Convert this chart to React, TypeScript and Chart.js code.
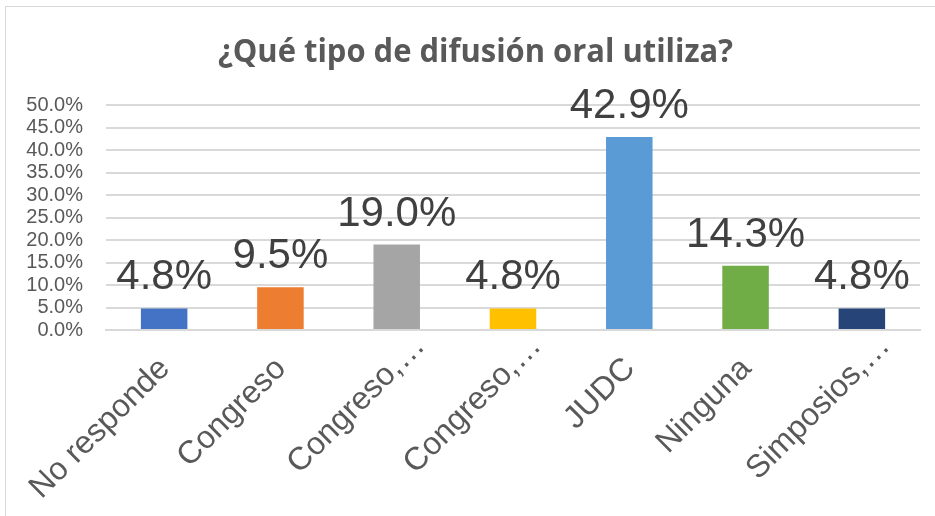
import React, { useEffect, useRef } from "react";
import { Chart, registerables } from "chart.js";

Chart.register(...registerables);

const TITLE = "¿Qué tipo de difusión oral utiliza?";
const CATEGORIES = ["No responde", "Congreso", "Congreso,…", "Congreso,…", "JUDC", "Ninguna", "Simposios,…"];
const VALUES = [4.8, 9.5, 19.0, 4.8, 42.9, 14.3, 4.8];
const COLORS = ["#4472C4", "#ED7D31", "#A5A5A5", "#FFC000", "#5B9BD5", "#70AD47", "#264478"];
const Y_MIN = 0;
const Y_MAX = 50;
const Y_STEP = 5;

const FONT = "'Liberation Sans', Arial, sans-serif";

const labelPlugin = {
  id: "valueLabels",
  afterDatasetsDraw(chart: any) {
    const ctx = chart.ctx;
    const meta = chart.getDatasetMeta(0);
    ctx.save();
    ctx.font = `42px ${FONT}`;
    ctx.fillStyle = "#404040";
    ctx.textAlign = "center";
    ctx.textBaseline = "alphabetic";
    meta.data.forEach((bar: any, i: number) => {
      ctx.fillText(VALUES[i].toFixed(1) + "%", bar.x, bar.y - 19);
    });
    ctx.restore();
  },
};

// Category labels rotated 45°, the text before a trailing ellipsis ends at the tick
const xLabelPlugin = {
  id: "xLabels",
  afterDraw(chart: any) {
    const ctx = chart.ctx;
    const xs = chart.scales.x;
    ctx.save();
    ctx.font = `32px ${FONT}`;
    ctx.fillStyle = "#595959";
    ctx.textAlign = "left";
    ctx.textBaseline = "alphabetic";
    CATEGORIES.forEach((lab, i) => {
      const x = xs.getPixelForTick(i);
      const prefix = lab.endsWith("…") ? lab.slice(0, -1) : lab;
      const pw = ctx.measureText(prefix).width;
      ctx.save();
      ctx.translate(x + 7, chart.chartArea.bottom + 40);
      ctx.rotate(-Math.PI / 4);
      ctx.fillText(lab, -pw, 0);
      ctx.restore();
    });
    ctx.restore();
  },
};

const titlePlugin = {
  id: "customTitle",
  afterDraw(chart: any) {
    const ctx = chart.ctx;
    ctx.save();
    ctx.font = `bold 33px 'Open Sans', ${FONT}`;
    ctx.fillStyle = "#595959";
    ctx.textAlign = "center";
    ctx.textBaseline = "alphabetic";
    const w = ctx.measureText(TITLE).width;
    const sx = 515 / w;
    ctx.translate(475.5, 62);
    ctx.scale(sx, 1);
    ctx.fillText(TITLE, 0, 0);
    ctx.restore();
  },
};

export default function App() {
  const ref = useRef<HTMLCanvasElement | null>(null);
  useEffect(() => {
    if (!ref.current) return;
    const chart = new Chart(ref.current, {
      type: "bar",
      data: {
        labels: CATEGORIES,
        datasets: [
          {
            data: VALUES,
            backgroundColor: COLORS,
            barPercentage: 0.4,
            categoryPercentage: 1,
          },
        ],
      },
      options: {
        animation: false,
        responsive: false,
        maintainAspectRatio: false,
        layout: { padding: { top: 105, right: 15, left: 0, bottom: 0 } },
        plugins: {
          legend: { display: false },
          title: { display: false },
          tooltip: { enabled: false },
        },
        scales: {
          x: {
            grid: { display: false, drawTicks: false },
            border: { color: "#d9d9d9", width: 2 },
            ticks: { display: false, autoSkip: false },
            afterFit(scale: any) {
              scale.height = 186;
            },
          },
          y: {
            min: Y_MIN,
            max: Y_MAX,
            grid: { color: "#d9d9d9", lineWidth: 2, drawTicks: false },
            border: { display: false },
            ticks: {
              stepSize: Y_STEP,
              autoSkip: false,
              color: "#595959",
              font: { family: FONT, size: 20 },
              padding: 23,
              callback: (v: any) => Number(v).toFixed(1) + "%",
            },
            afterFit(scale: any) {
              scale.width = 106;
            },
          },
        },
      } as any,
      plugins: [labelPlugin, xLabelPlugin, titlePlugin],
    });
    return () => chart.destroy();
  }, []);
  return (
    <div style={{ position: "absolute", left: 0, top: 0, width: 935, height: 516, background: "#fff", overflow: "hidden" }}>
      <div style={{ position: "absolute", left: 5, top: 6, width: 960, height: 540, border: "1.5px solid #d9d9d9", boxSizing: "border-box" }} />
      <canvas ref={ref} width={935} height={516} style={{ position: "absolute", left: 0, top: 0 }} />
    </div>
  );
}
